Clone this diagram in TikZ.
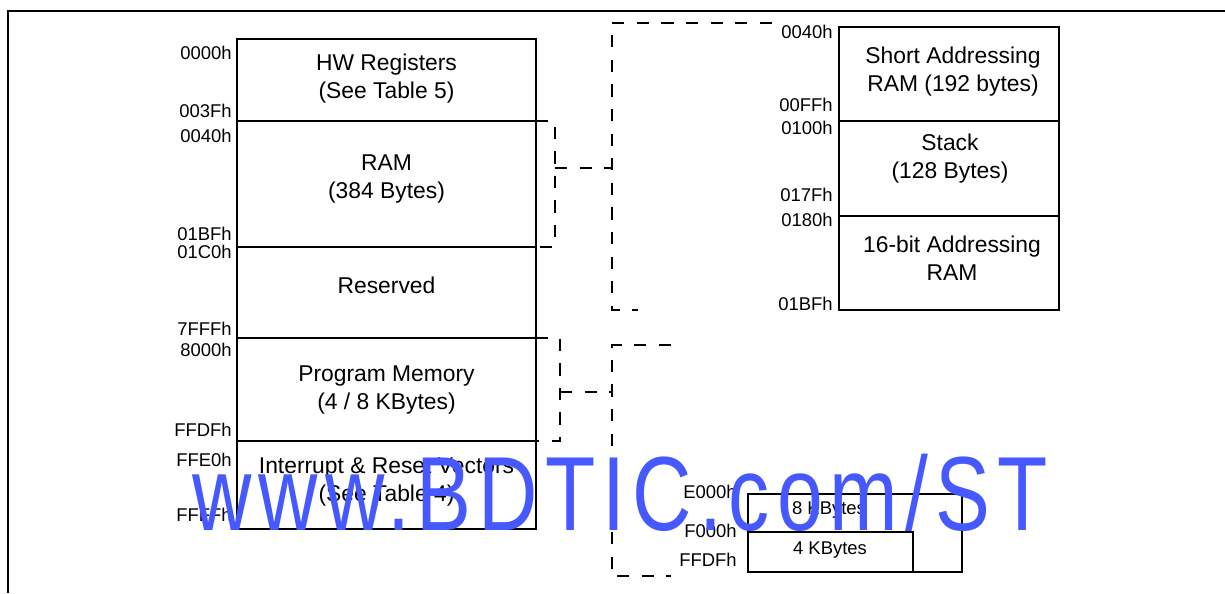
\documentclass[tikz,border=0pt]{standalone}
\usepackage{fontspec}
\setmainfont{Liberation Sans}
\newfontfamily\markfont[LetterSpace=8.6]{Liberation Sans}
\definecolor{markblue}{RGB}{70,88,255}
\begin{document}
\begin{tikzpicture}[
  x=0.02cm, y=-0.02cm,
  memblock/.style={draw, line width=1.1pt, inner sep=0pt, outer sep=0pt},
  blocktext/.style={align=center, inner sep=0pt, font=\fontsize{13}{16}\selectfont},
  smalltext/.style={inner sep=0pt, font=\fontsize{10.5}{12}\selectfont},
  addr/.style={anchor=east, inner sep=0pt, font=\fontsize{10.5}{12}\selectfont},
  linkline/.style={line width=1pt, dash pattern=on 7pt off 7pt}
]
\useasboundingbox (0,0) rectangle (1225,593);
\draw[line width=1.4pt] (8,593) -- (8,11) -- (1225,11);

% main memory map
\node[memblock, minimum width=5.98cm, minimum height=1.64cm] (hwreg) at (386.5,80) {};
\node[memblock, minimum width=5.98cm, minimum height=2.52cm] (ram) at (386.5,184) {};
\node[memblock, minimum width=5.98cm, minimum height=1.82cm] (reserved) at (386.5,292.5) {};
\node[memblock, minimum width=5.98cm, minimum height=2.06cm] (progmem) at (386.5,389.5) {};
\node[memblock, minimum width=5.98cm, minimum height=1.76cm] (vectors) at (386.5,485) {};

\node[blocktext] (hwregtext) at (386.5,79) {HW Registers\\(See Table 5)};
\node[blocktext] (ramtext) at (386.5,179) {RAM\\(384 Bytes)};
\node[blocktext] (reservedtext) at (386.5,285) {Reserved};
\node[blocktext] (progmemtext) at (386.5,390) {Program Memory\\(4 / 8 KBytes)};
\node[blocktext] (vectorstext) at (386.5,482) {Interrupt \& Reset Vectors\\(See Table 4)};

\node[addr] (a0000) at (232,52.5) {0000h};
\node[addr] (a003f) at (232,111) {003Fh};
\node[addr] (a0040) at (232,135.5) {0040h};
\node[addr] (a01bf) at (232,233.5) {01BFh};
\node[addr] (a01c0) at (232,252) {01C0h};
\node[addr] (a7fff) at (232,328.5) {7FFFh};
\node[addr] (a8000) at (232,349.5) {8000h};
\node[addr] (affdf) at (232,430) {FFDFh};
\node[addr] (affe0) at (232,459.5) {FFE0h};
\node[addr] (affff) at (232,515) {FFFFh};

% RAM detail
\node[memblock, minimum width=4.40cm, minimum height=1.88cm] (shortram) at (949,74) {};
\node[memblock, minimum width=4.40cm, minimum height=1.90cm] (stack) at (949,168.5) {};
\node[memblock, minimum width=4.40cm, minimum height=1.88cm] (longram) at (949,263) {};

\node[blocktext] (shortramtext) at (953,71.5) {Short Addressing\\RAM (192 bytes)};
\node[blocktext] (stacktext) at (950,159) {Stack\\(128 Bytes)};
\node[blocktext] (longramtext) at (952,258) {16-bit Addressing\\RAM};

\node[addr] (r0040) at (833,32) {0040h};
\node[addr] (r00ff) at (833,105) {00FFh};
\node[addr] (r0100) at (833,127.5) {0100h};
\node[addr] (r017f) at (833,194.5) {017Fh};
\node[addr] (r0180) at (833,219.5) {0180h};
\node[addr] (r01bf) at (833,304) {01BFh};

% program memory detail
\node[memblock, minimum width=4.28cm, minimum height=1.56cm] (kbeight) at (855,533) {};
\node[memblock, minimum width=3.30cm, minimum height=0.80cm] (kbfour) at (830.5,552) {};
\node[smalltext] (kbeighttext) at (829,510) {8 KBytes};
\node[smalltext] (kbfourtext) at (830,550) {4 KBytes};

\node[addr] (pe000) at (737,491.5) {E000h};
\node[addr] (pf000) at (737,531) {F000h};
\node[addr] (pffdf) at (737,559.5) {FFDFh};

% dashed links
\coordinate (ramtap) at (555,168);
\coordinate (ramtop) at (772,23);
\coordinate (ramend) at (638,310);
\draw[linkline] (ram.north east) -- ++(19,0) |- (ram.south east);
\draw[linkline] (ramtap) -- (612,168);
\draw[linkline] (ramtop) -- (612,23) -- (612,310) -- (ramend);

\coordinate (progtap) at (560,392);
\coordinate (progtop) at (671,345);
\coordinate (progend) at (671,576);
\draw[linkline] (progmem.north east) -- ++(24,0) |- (progmem.south east);
\draw[linkline] (progtap) -- (612,392);
\draw[linkline] (progtop) -- (612,345) -- (612,576) -- (progend);

% watermark
\node[anchor=base west, inner sep=0pt, text=markblue, font=\markfont\fontsize{60}{60}\selectfont] (mark) at (192,530) {\scalebox{0.78}[1]{www.BDTIC.com/ST}};
\end{tikzpicture}
\end{document}
